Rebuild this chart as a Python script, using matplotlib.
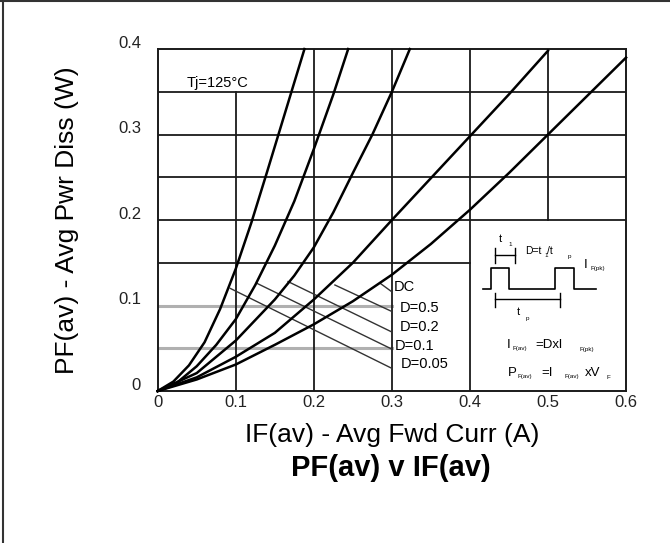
import matplotlib

matplotlib.use("Agg")
import matplotlib.pyplot as plt
import matplotlib.transforms as mtransforms
from matplotlib.lines import Line2D

plt.rcParams["font.family"] = ["Liberation Sans", "DejaVu Sans"]

# forward current (A) vs average power dissipation (W), one curve per duty cycle
if_d005 = [0, 0.02, 0.04, 0.06, 0.08, 0.10, 0.12, 0.14, 0.16, 0.18, 0.188]
pf_d005 = [0, 0.011, 0.030, 0.057, 0.096, 0.143, 0.197, 0.256, 0.316, 0.376, 0.4]

if_d01 = [0, 0.025, 0.05, 0.075, 0.1, 0.125, 0.15, 0.175, 0.2, 0.225, 0.244]
pf_d01 = [0, 0.010, 0.029, 0.054, 0.084, 0.124, 0.170, 0.222, 0.283, 0.347, 0.4]

if_d02 = [0, 0.05, 0.1, 0.15, 0.175, 0.2, 0.225, 0.25, 0.275, 0.3, 0.323]
pf_d02 = [0, 0.021, 0.059, 0.107, 0.135, 0.168, 0.209, 0.255, 0.300, 0.350, 0.4]

if_d05 = [0, 0.05, 0.1, 0.15, 0.2, 0.25, 0.3, 0.35, 0.4, 0.45, 0.5]
pf_d05 = [0, 0.016, 0.040, 0.068, 0.107, 0.150, 0.200, 0.249, 0.298, 0.347, 0.398]

if_dc = [0, 0.05, 0.1, 0.15, 0.2, 0.25, 0.3, 0.35, 0.4, 0.45, 0.5, 0.55, 0.6]
pf_dc = [0, 0.0135, 0.031, 0.054, 0.078, 0.105, 0.136, 0.172, 0.212, 0.255, 0.300, 0.345, 0.390]

curves = [
    (if_dc, pf_dc),
    (if_d05, pf_d05),
    (if_d02, pf_d02),
    (if_d01, pf_d01),
    (if_d005, pf_d005),
]

# curve labels and their leader lines (start on curve, end at IF = 0.3 A)
labels = ["DC", "D=0.5", "D=0.2", "D=0.1", "D=0.05"]
leader_x0 = [0.285, 0.227, 0.167, 0.127, 0.093]
leader_y0 = [0.126, 0.124, 0.128, 0.126, 0.120]
leader_y1 = [0.116, 0.093, 0.069, 0.049, 0.0265]
label_x = [0.302, 0.310, 0.310, 0.304, 0.312]
label_y = [0.122, 0.097, 0.075, 0.053, 0.032]

x_ticks = [0, 0.1, 0.2, 0.3, 0.4, 0.5, 0.6]
x_tick_labels = ["0", "0.1", "0.2", "0.3", "0.4", "0.5", "0.6"]
y_ticks = [0, 0.1, 0.2, 0.3, 0.4]
y_tick_labels = ["0", "0.1", "0.2", "0.3", "0.4"]

# duty-cycle waveform sketch in the lower right box
wave_x = [0.417, 0.427, 0.427, 0.450, 0.450, 0.509, 0.509, 0.533, 0.533, 0.561]
wave_y = [0.119, 0.119, 0.1435, 0.1435, 0.119, 0.119, 0.1435, 0.1435, 0.119, 0.119]

fig = plt.figure(figsize=(6.7, 5.43), dpi=100)
ax = fig.add_axes([0.2354, 0.2799, 0.6990, 0.6298])
ax.set_xlim(0, 0.6)
ax.set_ylim(0, 0.4)

grid_kw = dict(color="#1a1a1a", linewidth=1.3, zorder=1)
# horizontal grid
for yv in [0.2, 0.25, 0.3, 0.35]:
    ax.plot([0, 0.6], [yv, yv], **grid_kw)
ax.plot([0, 0.4], [0.15, 0.15], **grid_kw)
ax.plot([0, 0.3], [0.1, 0.1], color="#b0b0b0", linewidth=2.2, zorder=1)
ax.plot([0, 0.3], [0.05, 0.05], color="#b0b0b0", linewidth=2.2, zorder=1)
# vertical grid
ax.plot([0.1, 0.1], [0, 0.35], **grid_kw)
for xv in [0.2, 0.3, 0.4]:
    ax.plot([xv, xv], [0, 0.4], **grid_kw)
ax.plot([0.5, 0.5], [0.2, 0.4], **grid_kw)

for spine in ax.spines.values():
    spine.set_linewidth(1.4)
    spine.set_color("#1a1a1a")

for xs, ys in curves:
    ax.plot(xs, ys, color="black", linewidth=1.8, zorder=3, clip_on=False)

for x0, y0, y1, lab, lx, ly in zip(leader_x0, leader_y0, leader_y1, labels, label_x, label_y):
    ax.plot([x0, 0.3], [y0, y1], color="#333333", linewidth=1.0, zorder=2)
    ax.text(lx, ly, lab, fontsize=10.5, ha="left", va="center", zorder=4)

ax.text(0.037, 0.356, "Tj=125°C", fontsize=10.5, ha="left", va="baseline")

# waveform sketch
ax.plot(wave_x, wave_y, color="black", linewidth=1.2)
ax.plot([0.432, 0.458], [0.159, 0.159], color="black", linewidth=1.0)
ax.plot([0.432, 0.432], [0.150, 0.167], color="black", linewidth=1.0)
ax.plot([0.458, 0.458], [0.150, 0.167], color="black", linewidth=1.0)
ax.plot([0.432, 0.5157], [0.108, 0.108], color="black", linewidth=1.0)
ax.plot([0.432, 0.432], [0.098, 0.115], color="black", linewidth=1.0)
ax.plot([0.5157, 0.5157], [0.098, 0.115], color="black", linewidth=1.0)

inset_text = [
    ("t", 0.437, 0.178, 8),
    ("1", 0.450, 0.171, 4.5),
    ("D=t", 0.471, 0.164, 7.5),
    ("1", 0.496, 0.158, 4.5),
    ("/t", 0.499, 0.164, 7.5),
    ("p", 0.525, 0.157, 4.5),
    ("I", 0.546, 0.147, 9.5),
    ("F(pk)", 0.554, 0.143, 4.5),
    ("t", 0.460, 0.093, 8),
    ("p", 0.471, 0.085, 4.5),
    ("I", 0.447, 0.054, 9.5),
    ("F(av)", 0.454, 0.050, 4.5),
    ("=Dxl", 0.484, 0.054, 9.5),
    ("F(pk)", 0.540, 0.049, 4.5),
    ("P", 0.448, 0.021, 9.5),
    ("F(av)", 0.461, 0.017, 4.5),
    ("=I", 0.492, 0.021, 9.5),
    ("F(av)", 0.521, 0.017, 4.5),
    ("xV", 0.547, 0.021, 9.5),
    ("F", 0.575, 0.016, 4.5),
]
for txt, tx, ty, size in inset_text:
    ax.text(tx, ty, txt, fontsize=size, ha="left", va="center")

ax.set_xticks(x_ticks)
ax.set_xticklabels(x_tick_labels)
ax.set_yticks(y_ticks)
ax.set_yticklabels(y_tick_labels)
ax.tick_params(axis="both", length=0, labelsize=12, colors="#222222")
ax.tick_params(axis="x", pad=3)
ax.tick_params(axis="y", pad=12)
up = mtransforms.ScaledTranslation(0, 7.5 / 100, fig.dpi_scale_trans)
for lbl in ax.get_yticklabels():
    lbl.set_transform(lbl.get_transform() + up)

ax.set_xlabel("IF(av) - Avg Fwd Curr (A)", fontsize=19, labelpad=9)
ax.set_ylabel("PF(av) - Avg Pwr Diss (W)", fontsize=19, labelpad=28)
fig.text(0.583, 0.138, "PF(av) v IF(av)", fontsize=21, fontweight="bold",
         ha="center", va="center")

# frame lines at the left and top of the picture
fig.add_artist(Line2D([0.005, 0.005], [0, 1], color="#333333", linewidth=1.5))
fig.add_artist(Line2D([0, 1], [0.998, 0.998], color="#333333", linewidth=1.5))

fig.savefig("out.png", dpi=100)
